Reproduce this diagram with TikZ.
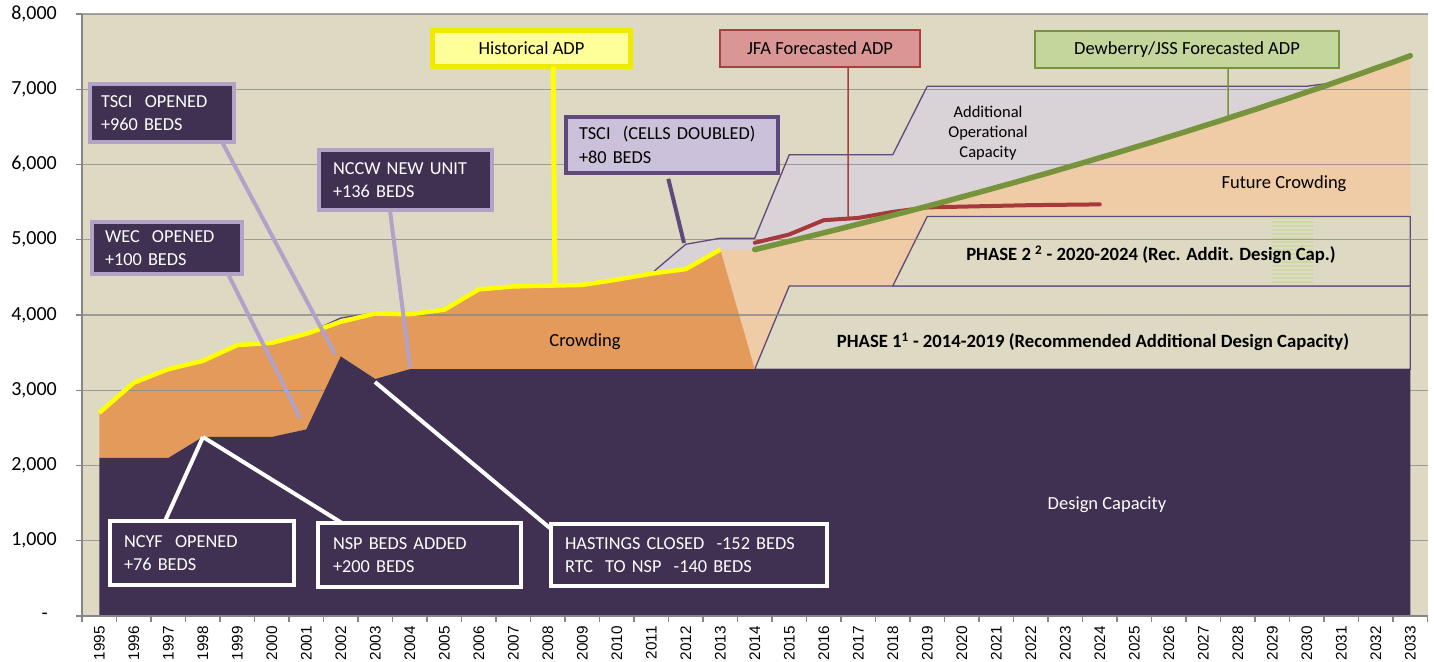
\documentclass[tikz,border=0pt]{standalone}
\usepackage{fontspec}
\setmainfont{Carlito}
\newfontfamily\arialf{Liberation Sans}
\usetikzlibrary{calc}
\definecolor{cTan}{HTML}{DDD9C3}
\definecolor{cGrid}{HTML}{868686}
\definecolor{cDark}{HTML}{403152}
\definecolor{cOrange}{HTML}{E39A5A}
\definecolor{cPeach}{HTML}{EFCBA6}
\definecolor{cGray}{HTML}{D9D2D6}
\definecolor{cOps}{HTML}{5F497A}
\definecolor{cLav}{HTML}{B3A2C7}
\definecolor{cLavF}{HTML}{CCC1DA}
\definecolor{cLavB}{HTML}{604A7B}
\definecolor{cYel}{HTML}{FFFF00}
\definecolor{cYelF}{HTML}{FFFF99}
\definecolor{cYelB}{HTML}{EEEA00}
\definecolor{cRed}{HTML}{A5393B}
\definecolor{cRedF}{HTML}{D99694}
\definecolor{cRedB}{HTML}{A8403E}
\definecolor{cGreen}{HTML}{77933C}
\definecolor{cGreenF}{HTML}{C3D69B}
\definecolor{cStripe}{HTML}{C8D9A0}
\tikzset{
  boxbase/.style={rectangle, anchor=north west, outer sep=0pt, inner ysep=0pt, align=left,
    font=\fontsize{18.3}{23.5}\selectfont},
  darkbox/.style={boxbase, fill=cDark, draw=cLav, line width=4pt, text=white},
  whitebox/.style={boxbase, fill=cDark, draw=white, line width=4pt, text=white},
  lavbox/.style={boxbase, fill=cLavF, draw=cLavB, line width=4pt, text=black},
  titlebox/.style={rectangle, anchor=north west, outer sep=0pt, inner sep=0pt,
    font=\fontsize{18.5}{22}\selectfont},
  leadL/.style={draw=cLav, line width=4pt},
  leadW/.style={draw=white, line width=4pt},
  outl/.style={draw=cOps, line width=1.3pt},
  gridln/.style={draw=cGrid, line width=1.2pt},
  axln/.style={draw=cGrid, line width=1.4pt},
  ylab/.style={anchor=east, inner sep=0pt, font=\fontsize{20}{20}\selectfont},
  xlab/.style={anchor=east, rotate=90, inner sep=0pt, font=\arialf\fontsize{15.3}{15.3}\selectfont},
  areatext/.style={font=\fontsize{18.5}{22}\selectfont, inner sep=0pt},
  phasetext/.style={font=\bfseries\fontsize{18.7}{20}\selectfont, inner sep=0pt},
}
\begin{document}
\begin{tikzpicture}[x=1pt,y=-1pt]
\useasboundingbox (0,0) rectangle (1434,661);
\fill[white] (0,0) rectangle (1434,661);
\fill[cTan] (82,14) rectangle (1428,616);

\begin{scope}[shift={(99.25pt,-616pt)},x=34.5pt,y=75.25pt]
  % additional operational capacity (grey)
  \fill[cGray] (6,3.75) -- (7,3.96) -- (8,4.03) -- (9,4.01) -- (10,4.07) -- (11,4.34) -- (12,4.38)
    -- (13,4.39) -- (14,4.40) -- (15,4.47) -- (16,4.55) -- (17,4.94) -- (18,5.02) -- (19,5.02)
    -- (20,6.13) -- (23,6.13) -- (24,7.04) -- (35,7.04) -- (36,7.10) -- (36,3.28) -- (6,3.28) -- cycle;
  % future crowding (peach)
  \fill[cPeach] (18,4.87) -- (19,4.87) -- plot[domain=19:38,samples=39] (\x,{4.87*pow(1.0226,\x-19)})
    -- (38,3.28) -- (19,3.28) -- cycle;
  % phases
  \filldraw[fill=cTan, outl] (19,3.28) -- (20,4.385) -- (38,4.385) -- (38,3.28) -- cycle;
  \filldraw[fill=cTan, outl] (23,4.385) -- (24,5.31) -- (38,5.31) -- (38,4.385) -- cycle;
  % crowding (orange)
  \fill[cOrange] (0,2.70) -- (1,3.10) -- (2,3.28) -- (3,3.39) -- (4,3.60) -- (5,3.63) -- (6,3.75)
    -- (7,3.91) -- (8,4.02) -- (9,4.01) -- (10,4.07) -- (11,4.34) -- (12,4.38) -- (13,4.39)
    -- (14,4.40) -- (15,4.47) -- (16,4.55) -- (17,4.61) -- (18,4.87) -- (19,3.28)
    -- (9,3.28) -- (8,3.15) -- (7,3.45) -- (6,2.48) -- (5,2.38) -- (3,2.38) -- (2,2.1) -- (0,2.1) -- cycle;
  % gridlines
  \foreach \v in {1,...,8} { \draw[gridln, opacity=0.75] (-0.5,\v) -- (38.5,\v); }
  % design capacity
  \fill[cDark] (0,0) -- (0,2.1) -- (2,2.1) -- (3,2.38) -- (5,2.38) -- (6,2.48) -- (7,3.45)
    -- (8,3.15) -- (9,3.28) -- (38,3.28) -- (38,0) -- cycle;
  % operational capacity outline
  \draw[outl, line join=round] (6,3.75) -- (7,3.96) -- (8,4.03) -- (9,4.01) -- (10,4.07) -- (11,4.34)
    -- (12,4.38) -- (13,4.39) -- (14,4.40) -- (15,4.47) -- (16,4.55) -- (17,4.94) -- (18,5.02)
    -- (19,5.02) -- (20,6.13) -- (23,6.13) -- (24,7.04) -- (35,7.04) -- (36,7.10);
  % historical ADP
  \draw[cYel, line width=4.5pt, line join=round] (0,2.70) -- (1,3.10) -- (2,3.28) -- (3,3.39)
    -- (4,3.60) -- (5,3.63) -- (6,3.75) -- (7,3.91) -- (8,4.02) -- (9,4.01) -- (10,4.07)
    -- (11,4.34) -- (12,4.38) -- (13,4.39) -- (14,4.40) -- (15,4.47) -- (16,4.55) -- (17,4.61) -- (18,4.87);
  % JFA forecast
  \draw[cRed, line width=4pt, line join=round, line cap=round] (19,4.96) -- (20,5.07) -- (21,5.26)
    -- (22,5.29) -- (23,5.37) -- (24,5.43) -- (25,5.44) -- (26,5.45) -- (27,5.46) -- (28,5.465) -- (29,5.47);
  % Dewberry forecast
  \draw[cGreen, line width=5.5pt, line cap=round] plot[domain=19:38,samples=39] (\x,{4.87*pow(1.0226,\x-19)});
  % axes
  \draw[axln] (-0.5,0) -- (-0.5,8);
  \draw[axln] (-0.5,0) -- (38.5,0);
  \foreach \v in {0,...,8} { \draw[axln] (-0.5,\v) -- ++(-6pt,0); }
  \foreach \k in {0,...,39} { \draw[axln] (\k-0.5,0) -- ++(0,-6pt); }
  \foreach \t in {0,...,38} {
    \pgfmathtruncatemacro\yr{1995+\t}
    \node[xlab] (xl\t) at ([yshift=-10pt]\t,0) {\yr};
  }
  \foreach \v in {1,...,8} {
    \node[ylab] (yl\v) at ([xshift=-25pt]-0.5,\v) {\v,000};
  }
  \node[ylab] (yl0) at ([xshift=-34pt]-0.5,0) {-};
\end{scope}

% odd green stripes
\foreach \yy in {218,222,...,282} { \draw[cStripe, line width=1.5pt, opacity=0.8] (1272,\yy) -- (1313,\yy); }

% area labels
\node[areatext] (crowd) at (585,342) {Crowding};
\node[areatext] (fut) at (1284,184) {Future Crowding};
\node[areatext, text=white] (dcap) at (1107,505) {Design Capacity};
\node[areatext, align=center, font=\fontsize{16.5}{20}\selectfont] (aoc) at (988,133) {Additional\\Operational\\Capacity};
\node[phasetext] (ph2) at (1151,255) {PHASE 2 \textsuperscript{2} - 2020-2024 (Rec. Addit. Design Cap.)};
\node[phasetext] (ph1) at (1093,342) {PHASE 1\textsuperscript{1} - 2014-2019 (Recommended Additional Design Capacity)};

% leader end points
\coordinate (eTSCI) at (335,354);
\coordinate (eWEC) at (300,418);
\coordinate (eNCCW) at (410,367);
\coordinate (eHist) at (555,284);
\coordinate (eDbl) at (684,243);
\coordinate (eJFA) at (848,218);
\coordinate (eDew) at (1228,116);
\coordinate (e1998) at (203,437);
\coordinate (eHast) at (375,382);

% callout boxes
\node[darkbox, minimum width=144pt, text width=122pt, inner xsep=11pt, minimum height=58pt] (tsci) at (90,84) {TSCI\ \ OPENED\\+960 BEDS};
\node[darkbox, minimum width=150pt, text width=124pt, inner xsep=13pt, minimum height=52pt] (wec) at (92,222) {WEC\ \ OPENED\\+100 BEDS};
\node[darkbox, minimum width=173pt, text width=145pt, inner xsep=14pt, minimum height=60pt] (nccw) at (319,150) {NCCW NEW UNIT\\+136 BEDS};
\node[lavbox, minimum width=212pt, text width=186pt, inner xsep=13pt, minimum height=56pt] (dbl) at (566,117) {TSCI\ \ (CELLS DOUBLED)\\+80 BEDS};
\node[whitebox, minimum width=184pt, text width=156pt, inner xsep=14pt, minimum height=64pt] (ncyf) at (110,521) {NCYF\ \ OPENED\\+76 BEDS};
\node[whitebox, minimum width=203pt, text width=173pt, inner xsep=15pt, minimum height=64pt] (nsp) at (318,523) {NSP BEDS ADDED\\+200 BEDS};
\node[whitebox, minimum width=276pt, text width=248pt, inner xsep=14pt, minimum height=62pt] (hast) at (551,524) {HASTINGS CLOSED\ \ -152 BEDS\\RTC\ \ TO NSP\ \ -140 BEDS};
\node[titlebox, fill=cYelF, draw=cYelB, line width=5pt, minimum width=198pt, minimum height=36pt] (hist) at (432.5,30.5) {Historical ADP};
\node[titlebox, fill=cRedF, draw=cRedB, line width=2.5pt, minimum width=200pt, minimum height=37pt] (jfa) at (720,30) {JFA Forecasted ADP};
\node[titlebox, fill=cGreenF, draw=cGreen, line width=2pt, minimum width=304pt, minimum height=37pt] (dew) at (1035,31) {Dewberry/JSS Forecasted ADP};

% leaders
\draw[leadL] ($(tsci.south west)!0.917!(tsci.south east)$) -- (eTSCI);
\draw[leadL] ($(wec.south west)!0.907!(wec.south east)$) -- (eWEC);
\draw[leadL] ($(nccw.south west)!0.41!(nccw.south east)$) -- (eNCCW);
\draw[cYel, line width=5pt] ($(hist.south west)!0.609!(hist.south east)$) -- (eHist);
\draw[cLavB, line width=4pt, shorten <=6pt] ($(dbl.south west)!0.476!(dbl.south east)$) -- (eDbl);
\draw[cRedB, line width=1.5pt] ($(jfa.south west)!0.64!(jfa.south east)$) -- (eJFA);
\draw[cGreen, line width=1.5pt] ($(dew.south west)!0.635!(dew.south east)$) -- (eDew);
\draw[leadW] ($(ncyf.north west)!0.299!(ncyf.north east)$) -- (e1998);
\draw[leadW] ($(nsp.north west)!0.118!(nsp.north east)$) -- (e1998);
\draw[leadW] ($(hast.north west)!0.08!(hast.south west)$) -- (eHast);
\end{tikzpicture}
\end{document}
